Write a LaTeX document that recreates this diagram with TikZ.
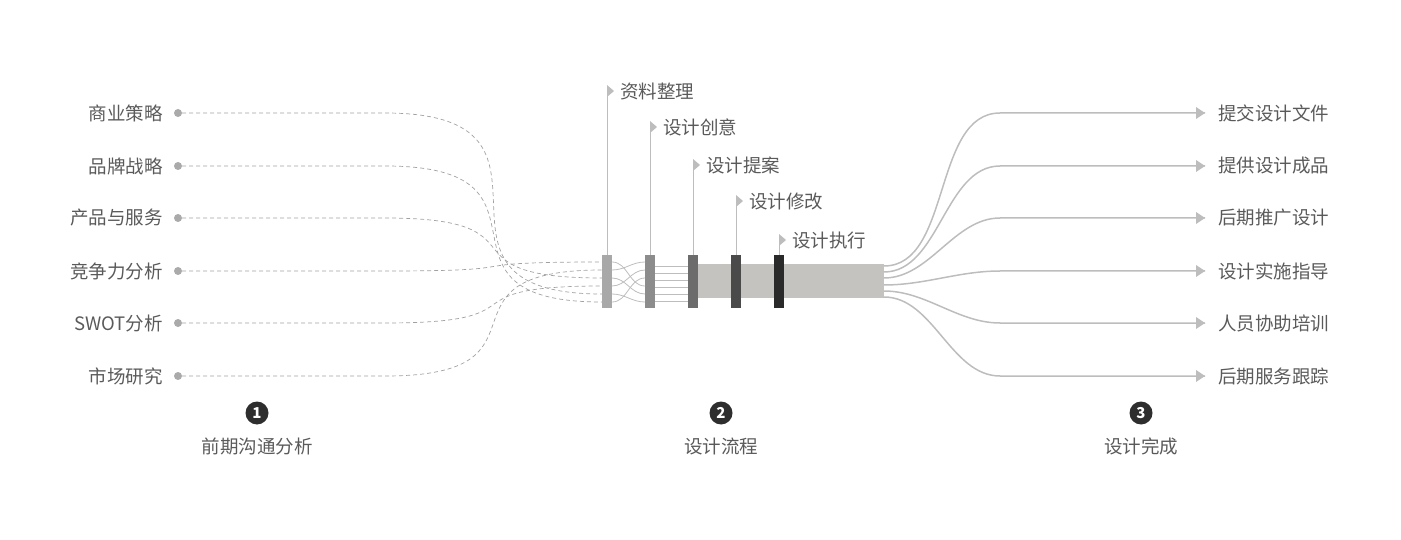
\documentclass[tikz,border=0pt]{standalone}
\usepackage{fontspec}
\setmainfont{Noto Sans CJK SC}
\usepackage{tikz}
\definecolor{txt}{HTML}{5A5A5A}
\definecolor{band}{HTML}{C4C3C0}
\definecolor{lne}{HTML}{BDBDBD}

\begin{document}
\begin{tikzpicture}[x=1pt, y=-1pt,
    lab/.style = {text=txt, font=\fontsize{18.5}{18.5}\selectfont, inner sep=0pt},
    dot/.style = {circle, fill=lne!90!black, minimum size=8pt, inner sep=0pt},
    bar/.style = {minimum width=10pt, minimum height=53pt, inner sep=0pt},
    num/.style = {circle, fill=black!82, text=white, minimum size=23pt, inner sep=0pt, font=\bfseries\fontsize{15}{15}\selectfont},
    flag/.style = {fill=lne, draw=none}]
    \useasboundingbox (0,0) rectangle (1401,540);

    % left side
    \foreach \t/\y/\e [count=\i] in {商业策略/113/294, 品牌战略/166/302, 产品与服务/218/278, 竞争力分析/271/262, SWOT分析/323/286, 市场研究/376/270}{
        \node[lab, anchor=east] (l\i) at (163,\y) {\t};
        \node[dot] (d\i) at (178,\y) {};
        \coordinate (m\i) at (385,\y);
        \coordinate (e\i) at (602,\e);
        \draw[lne!85!black, dash pattern=on 4pt off 3pt, line width=0.7pt] (d\i) -- (m\i) to[out=0, in=180, looseness=1.9] (e\i);
    }

    % process
    \fill[band] (698,264) rectangle (884,298);
    \foreach \x/\c/\t/\ly [count=\i] in {607/A8A8A8/资料整理/91, 650/8C8C8C/设计创意/127, 693/6C6C6C/设计提案/165, 736/4A4A4A/设计修改/201, 779/2A2A2A/设计执行/240}{
        \definecolor{bc\i}{HTML}{\c}
        \node[bar, fill=bc\i] (b\i) at (\x,281.5) {};
        \coordinate (f\i) at (\x,\ly);
        \draw[lne, line width=0.8pt] (b\i.north) -- (f\i);
        \fill[flag] (f\i) ++(0,-6) -- ++(7,6) -- ++(-7,6) -- cycle;
        \node[lab, anchor=west] (t\i) at (\x+13,\ly) {\t};
    }
    \foreach \a/\b in {262/286, 270/262, 278/294, 286/270, 294/302, 302/278}{
        \draw[lne, line width=0.8pt] (612,\a) to[out=0, in=180] (645,\b);
    }
    \foreach \a in {266,273,280,287,294,301}{
        \draw[lne, line width=0.8pt] (655,\a) -- (688,\a);
    }

    % right side
    \foreach \t/\y/\s [count=\i] in {提交设计文件/113/266, 提供设计成品/166/272, 后期推广设计/218/278, 设计实施指导/271/285, 人员协助培训/323/291, 后期服务跟踪/376/297}{
        \coordinate (s\i) at (884,\s);
        \coordinate (r\i) at (1000,\y);
        \coordinate (a\i) at (1205,\y);
        \draw[lne, line width=1.5pt] (s\i) to[out=0, in=180, looseness=0.9] (r\i) -- (a\i);
        \fill[lne] (a\i) ++(-9,-6) -- ++(9,6) -- ++(-9,6) -- cycle;
        \node[lab, anchor=west] (rt\i) at (1218,\y) {\t};
    }

    % stages
    \node[num] (n1) at (257,413) {1};
    \node[lab] (c1) at (257,446) {前期沟通分析};
    \node[num] (n2) at (721,413) {2};
    \node[lab] (c2) at (721,446) {设计流程};
    \node[num] (n3) at (1141,413) {3};
    \node[lab] (c3) at (1141,446) {设计完成};
\end{tikzpicture}
\end{document}
